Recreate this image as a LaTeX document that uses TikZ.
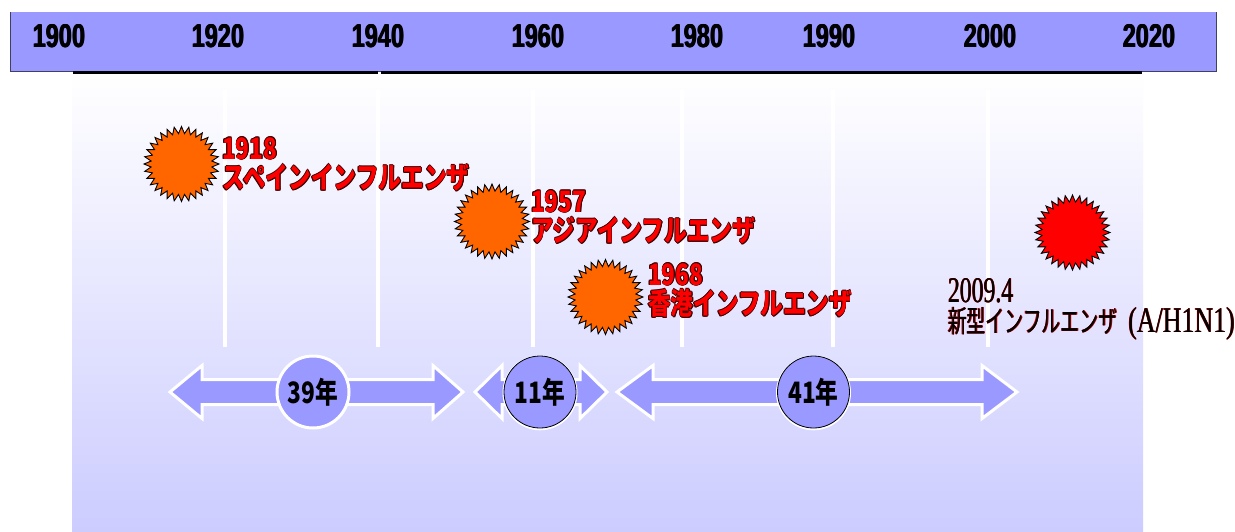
\documentclass[tikz,border=0pt]{standalone}
\usepackage{fontspec}
\usepackage{graphicx}
\usetikzlibrary{shapes.geometric}
\setmainfont{Liberation Sans}
\newfontfamily\jp{Noto Sans CJK JP}
\newfontfamily\lser{Liberation Serif}
\definecolor{barc}{HTML}{9999FF}
\definecolor{panelc}{HTML}{CCCCFF}
\definecolor{sunc}{HTML}{FF6600}
\definecolor{redsun}{HTML}{FF0000}
\definecolor{txtred}{HTML}{FF0000}
\definecolor{edgec}{HTML}{3A0000}
\definecolor{edgeb}{HTML}{990000}
\definecolor{bardk}{HTML}{404060}
\newcommand\yrtxt[1]{\scalebox{0.71}[1]{\fontsize{33}{33}\selectfont\bfseries #1}}
\newcommand\jbtxt[1]{\scalebox{0.77}[1]{\fontsize{29.5}{29.5}\selectfont\jp\bfseries #1}}
\newcommand\olabel[3]{%
  \foreach \dx/\dy in {-0.7/0,0.7/0,0/-0.7,0/0.7,-0.5/-0.5,0.5/0.5,-0.5/0.5,0.5/-0.5}{%
    \node[tlab,text=edgec] at ([shift={(\dx,\dy)}]#2) {\jbtxt{#3}};}
  \node[tlab,text=txtred] (#1) at (#2) {\jbtxt{#3}};}
\newcommand\nlabel[3]{%
  \foreach \dx/\dy in {-0.35/0,0.35/0,0/0.35}{%
    \node[tlab,text=edgeb] at ([shift={(\dx,\dy)}]#2) {#3};}
  \node[tlab,text=black] (#1) at (#2) {#3};}
\newcommand\ylabel[3]{%
  \foreach \dx in {-0.5,0.5}{%
    \node[yrlab] at ([shift={(\dx,0)}]#2) {\yrtxt{#3}};}
  \node[yrlab] (#1) at (#2) {\yrtxt{#3}};}
\begin{document}
\begin{tikzpicture}[x=1pt,y=-1pt,
  tlab/.style={anchor=base west,inner sep=0pt,outer sep=0pt},
  yrlab/.style={inner sep=0pt,text=black},
  vline/.style={white,line width=4pt},
  arrowsty/.style={fill=barc,draw=white,line width=3pt,line join=miter},
  yrcirc/.style={circle,fill=barc,minimum size=72pt,inner sep=0pt,text=black},
  sun/.style={star,star points=32,star point ratio=1.23,minimum size=75pt,inner sep=0pt,draw=black,line width=0.9pt,fill=sunc}]
\useasboundingbox (0,0) rectangle (1235,531);
\fill[white] (0,0) rectangle (1235,531);
% gradient panel
\shade[top color=white,bottom color=panelc] (72,74) rectangle (1143,531);
% top bar
\fill[barc] (10,12) rectangle (1216,71);
\draw[bardk,line width=1pt] (10,12) -- (10,71) -- (1216,71) -- (1216,12);
\draw[black,line width=3.5pt] (73,72.5) -- (377.5,72.5);
\draw[black,line width=3.5pt] (380.5,72.5) -- (1142,72.5);
% year labels
\coordinate (q1900) at (59,36);
\coordinate (q1920) at (218,36);
\coordinate (q1940) at (378,36);
\coordinate (q1960) at (538,36);
\coordinate (q1980) at (697,36);
\coordinate (q1990) at (829,36);
\coordinate (q2000) at (990,36);
\coordinate (q2020) at (1149,36);
\ylabel{y1900}{q1900}{1900}
\ylabel{y1920}{q1920}{1920}
\ylabel{y1940}{q1940}{1940}
\ylabel{y1960}{q1960}{1960}
\ylabel{y1980}{q1980}{1980}
\ylabel{y1990}{q1990}{1990}
\ylabel{y2000}{q2000}{2000}
\ylabel{y2020}{q2020}{2020}
% vertical white lines
\foreach \xx in {225,378,533,682,833,988}{\draw[vline] (\xx,90) -- (\xx,347);}
% double arrows
\draw[arrowsty] (170,392) -- (202,365.5) -- (202,379.5) -- (433,379.5) -- (433,365.5) -- (463,392)
  -- (433,418.5) -- (433,404.5) -- (202,404.5) -- (202,418.5) -- cycle;
\draw[arrowsty] (475,392) -- (502,365.5) -- (502,379.5) -- (580,379.5) -- (580,365.5) -- (607,392)
  -- (580,418.5) -- (580,404.5) -- (502,404.5) -- (502,418.5) -- cycle;
\draw[arrowsty] (617,392) -- (653,365.5) -- (653,379.5) -- (982,379.5) -- (982,365.5) -- (1017,392)
  -- (982,418.5) -- (982,404.5) -- (653,404.5) -- (653,418.5) -- cycle;
% circles
\node[yrcirc,draw=white,line width=3pt] (c39) at (313,392) {\jbtxt{39年}};
\node[circle,fill=white,minimum size=75pt] (c11w) at (540,392.8) {};
\node[yrcirc,draw=black,line width=0.8pt] (c11) at (540,392) {\jbtxt{11年}};
\node[circle,fill=white,minimum size=75pt] (c41w) at (813.5,392.8) {};
\node[yrcirc,draw=black,line width=0.8pt] (c41) at (813.5,392) {\jbtxt{41年}};
% suns
\node[sun] (s1918) at (181.5,164) {};
\node[sun] (s1957) at (492,221.5) {};
\node[sun] (s1968) at (605.5,297) {};
\node[sun,fill=redsun] (s2009) at (1072.5,232.5) {};
% red labels
\coordinate (p1) at (222,159);
\coordinate (p2) at (222,188.5);
\coordinate (p3) at (531,212);
\coordinate (p4) at (531,241.5);
\coordinate (p5) at (648,285);
\coordinate (p6) at (648,314.5);
\olabel{t1918a}{p1}{1918}
\olabel{t1918b}{p2}{スペインインフルエンザ}
\olabel{t1957a}{p3}{1957}
\olabel{t1957b}{p4}{アジアインフルエンザ}
\olabel{t1968a}{p5}{1968}
\olabel{t1968b}{p6}{香港インフルエンザ}
% 2009 label
\coordinate (p7) at (948,302);
\coordinate (p8) at (948,332);
\nlabel{t2009a}{p7}{\scalebox{0.66}[1]{\fontsize{36}{36}\selectfont\lser 2009.4}}
\nlabel{t2009b}{p8}{\scalebox{0.63}[1]{\fontsize{30}{30}\selectfont\jp 新型インフルエンザ}\scalebox{0.72}[1]{\fontsize{36}{36}\selectfont\lser\ \,(A/H1N1)}}
\end{tikzpicture}
\end{document}
